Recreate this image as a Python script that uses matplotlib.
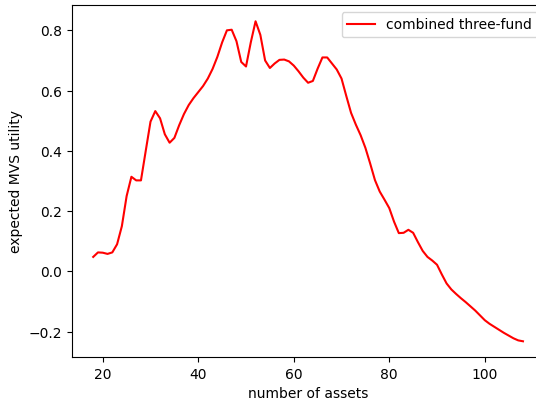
#!/usr/bin/env python3
"""Expected MVS utility of the combined three-fund rule vs number of assets."""

import matplotlib

matplotlib.use("Agg")
import matplotlib.pyplot as plt  # noqa: E402

N_ASSETS = list(range(18, 109))
UTILITY = [
    0.048, 0.063, 0.062, 0.058, 0.063, 0.090, 0.150, 0.250, 0.314, 0.302,  # 18-27
    0.302, 0.400, 0.497, 0.532, 0.508, 0.455, 0.427, 0.443, 0.485, 0.522,  # 28-37
    0.552, 0.575, 0.595, 0.615, 0.640, 0.672, 0.712, 0.760, 0.800, 0.802,  # 38-47
    0.764, 0.695, 0.680, 0.760, 0.830, 0.785, 0.700, 0.675, 0.690, 0.702,  # 48-57
    0.703, 0.697, 0.683, 0.664, 0.643, 0.626, 0.632, 0.673, 0.710, 0.710,  # 58-67
    0.690, 0.670, 0.640, 0.582, 0.526, 0.487, 0.452, 0.410, 0.358, 0.303,  # 68-77
    0.265, 0.238, 0.210, 0.165, 0.127, 0.128, 0.138, 0.128, 0.097, 0.068,  # 78-87
    0.048, 0.036, 0.022, -0.010, -0.040, -0.060, -0.075, -0.089, -0.102, -0.116,  # 88-97
    -0.130, -0.146, -0.162, -0.174, -0.184, -0.194, -0.204, -0.213, -0.222, -0.229,  # 98-107
    -0.232,  # 108
]
LABEL = "combined three-fund"


def main() -> None:
    fig = plt.figure(figsize=(5.36, 4.025), dpi=100)
    # the reference is cropped on the right, so the axes run past the figure edge
    ax = fig.add_axes([0.1338, 0.1111, 0.882, 0.8745])
    ax.plot(N_ASSETS, UTILITY, color="red", linewidth=1.5, label=LABEL)
    ax.set_xlabel("number of assets")
    ax.set_ylabel("expected MVS utility")
    ax.legend(loc="upper right")
    fig.savefig("out.png", dpi=100)
    plt.close(fig)


if __name__ == "__main__":
    main()
